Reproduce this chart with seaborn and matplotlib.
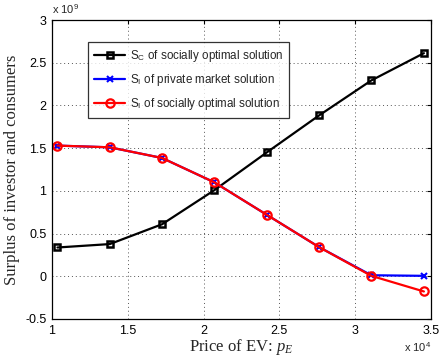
import matplotlib
matplotlib.use("Agg")
import matplotlib.pyplot as plt
from matplotlib.ticker import FuncFormatter, MultipleLocator
import numpy as np
import pandas as pd
import seaborn as sns

# EV price (x) and surplus values (y)
price = [10360, 13810, 17260, 20710, 24170, 27620, 31070, 34540]
sc_social = [0.337e9, 0.377e9, 0.609e9, 1.008e9, 1.450e9, 1.883e9, 2.293e9, 2.612e9]
si_private = [1.530e9, 1.510e9, 1.385e9, 1.100e9, 0.720e9, 0.342e9, 0.012e9, 0.005e9]
si_social = [1.530e9, 1.510e9, 1.385e9, 1.100e9, 0.720e9, 0.342e9, 0.005e9, -0.178e9]

labels = [
    r"S$_\mathrm{C}$ of socially optimal solution",
    r"S$_\mathrm{I}$ of private market solution",
    r"S$_\mathrm{I}$ of socially optimal solution",
]

df = pd.DataFrame({
    "price": price * 3,
    "surplus": sc_social + si_private + si_social,
    "series": [labels[0]] * len(price) + [labels[1]] * len(price) + [labels[2]] * len(price),
})

sns.set_style("white")
plt.rcParams["font.family"] = ["Liberation Sans", "DejaVu Sans"]
plt.rcParams["mathtext.fontset"] = "custom"
plt.rcParams["mathtext.rm"] = "Liberation Sans"
plt.rcParams["mathtext.it"] = "Liberation Serif:italic"

fig = plt.figure(figsize=(4.41, 3.58), dpi=100)
ax = fig.add_axes([0.118, 0.109, 0.859, 0.835])

styles = {
    labels[0]: dict(color="black", marker="s", markersize=5, markerfacecolor="none",
                    markeredgecolor="black", markeredgewidth=1.8),
    labels[1]: dict(color="blue", marker="x", markersize=4,
                    markeredgecolor="blue", markeredgewidth=1.5),
    labels[2]: dict(color="red", marker="o", markersize=6, markerfacecolor="none",
                    markeredgecolor="red", markeredgewidth=1.6),
}
for lab in labels:
    sub = df[df["series"] == lab]
    sns.lineplot(data=sub, x="price", y="surplus", ax=ax, label=lab,
                 linewidth=1.6, **styles[lab])

ax.set_xlim(10000, 35000)
ax.set_ylim(-0.5e9, 3e9)
ax.xaxis.set_major_locator(MultipleLocator(5000))
ax.yaxis.set_major_locator(MultipleLocator(0.5e9))
ax.xaxis.set_major_formatter(FuncFormatter(lambda v, p: f"{v / 1e4:g}"))
ax.yaxis.set_major_formatter(FuncFormatter(lambda v, p: f"{v / 1e9:g}"))
ax.tick_params(direction="in", length=3, width=0.8, labelsize=9, colors="black",
               top=True, right=True, pad=4)
ax.grid(True, linestyle=(0, (1, 3)), color="#555555", linewidth=0.7)
for s in ax.spines.values():
    s.set_color("black")
    s.set_linewidth(0.9)

ax.set_xlabel(r"Price of EV: $p_E$", family="Liberation Serif", fontsize=12, labelpad=0)
ax.set_ylabel("Surplus of investor and consumers", family="Liberation Serif",
              fontsize=12, labelpad=4)

fig.text(0.118, 0.955, r"x 10$^{9}$", fontsize=8, ha="left", va="bottom")
fig.text(0.977, 0.012, r"x 10$^{4}$", fontsize=8, ha="right", va="bottom")

leg = ax.legend(loc="upper left", bbox_to_anchor=(0.095, 0.926), borderaxespad=0,
                fontsize=8.4, handlelength=2.7, numpoints=1, labelspacing=0.7,
                fancybox=False, frameon=True, borderpad=0.5, handletextpad=0.4)
leg.get_frame().set_edgecolor("black")
leg.get_frame().set_linewidth(0.9)

fig.savefig("out.png", dpi=100)
